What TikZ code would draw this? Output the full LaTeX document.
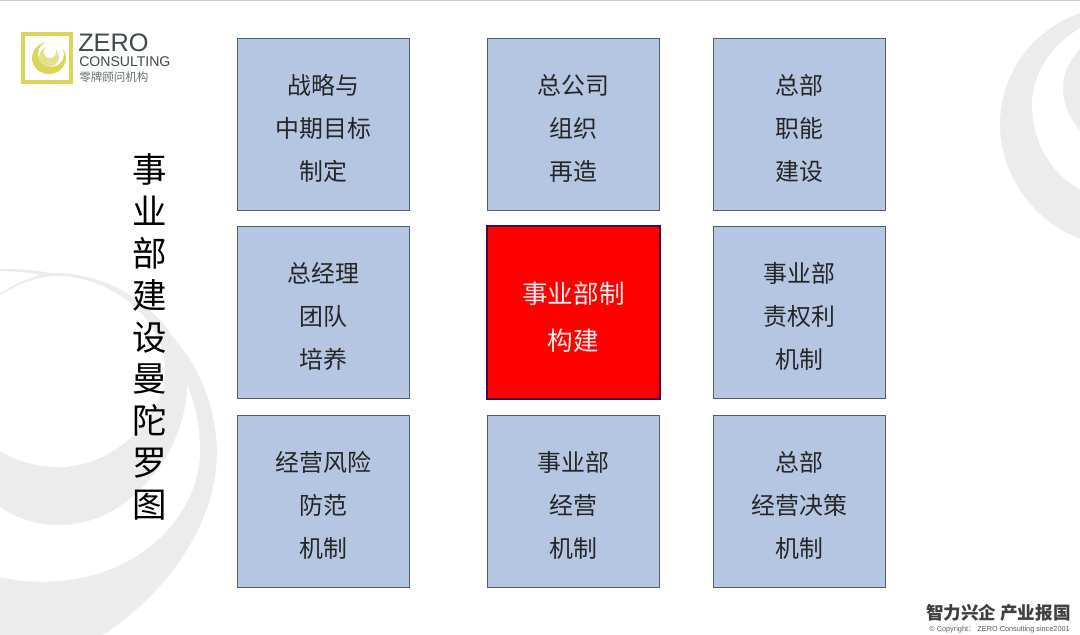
\documentclass[tikz,border=0pt]{standalone}
\usepackage{fontspec}
\setmainfont{Liberation Sans}
\newfontfamily\cjk{Noto Sans CJK SC}
\definecolor{swirl}{HTML}{ECECEC}
\definecolor{boxblue}{HTML}{B4C6E2}
\definecolor{boxline}{HTML}{4F5E72}
\definecolor{logoyellow}{HTML}{DDD45A}
\definecolor{logotext}{HTML}{3F4A4C}
\tikzset{
  cell/.style={draw=boxline, fill=boxblue, line width=1pt, minimum width=173*0.7087pt, minimum height=173*0.7087pt, inner sep=0pt},
  core/.style={cell, draw=black!60!blue!70!red, fill=red, line width=1.6pt},
  celltext/.style={align=center, inner sep=0pt, yshift=-2.8pt, text=black!85, font=\fontsize{17}{30.5}\selectfont\cjk},
  coretext/.style={align=center, inner sep=0pt, yshift=-3.4pt, text=white!92!red, font=\fontsize{18.2}{33.5}\selectfont\cjk},
}
\begin{document}
\begin{tikzpicture}[x=0.025cm, y=-0.025cm]
	\useasboundingbox (0,0) rectangle (1080,635);
	\fill[white] (0,0) rectangle (1080,635);
	\fill[black!20] (0,0) rectangle (1080,1.5);

	\begin{scope}
	\clip (0,0) rectangle (1080,635);
	% left swirl
	\fill[swirl] (-10,270) .. controls (60,262) and (210,300) .. (217,450) .. controls (217,530) and (160,600) .. (95,640) -- (-10,640) -- cycle;
	\fill[white] (-10,272) .. controls (60,264) and (200,318) .. (200,450) .. controls (200,530) and (110,605) .. (-10,575) -- cycle;
	\fill[swirl] (-10,300) .. controls (20,280) and (40,272) .. (60,273) .. controls (130,277) and (187,330) .. (187,385) .. controls (187,450) and (130,525) .. (60,525) .. controls (30,525) and (10,515) .. (-10,500) -- cycle;
	\fill[white] (-10,302) .. controls (15,285) and (35,276) .. (60,276) .. controls (120,279) and (165,325) .. (165,370) .. controls (165,420) and (110,467) .. (60,467) .. controls (30,467) and (10,458) .. (-10,445) -- cycle;
	% right swirl
	\fill[swirl] (1085,11) .. controls (1030,30) and (1000,75) .. (1000,125) .. controls (1000,175) and (1035,225) .. (1085,240) -- cycle;
	\fill[white] (1085,25) .. controls (1050,45) and (1032,75) .. (1032,105) .. controls (1032,140) and (1050,175) .. (1085,192) -- cycle;
	\fill[swirl] (1085,43) .. controls (1070,60) and (1063,72) .. (1063,88) .. controls (1063,105) and (1070,120) .. (1085,137) -- cycle;
	\end{scope}

	% logo
	\draw[logoyellow, line width=3pt] (23,34) rectangle (71,82);
	\fill[logoyellow] (49,58) ellipse (17 and 16);
	\fill[white] (51,54) ellipse (13 and 13);
	\fill[logoyellow!70] (49,57) circle (10);
	\fill[white] (50,52) circle (6);
	\node[anchor=west, inner sep=0pt, text=logotext, font=\fontsize{18}{18}\selectfont] (zero) at (78,43) {ZERO};
	\node[anchor=west, inner sep=0pt, text=logotext, font=\fontsize{10}{10}\selectfont] (consulting) at (79,62) {CONSULTING};
	\node[anchor=west, inner sep=0pt, text=logotext!80, font=\fontsize{8.2}{9}\selectfont\cjk] (brand) at (79,77) {零牌顾问机构};

	% title
	\node[align=center, inner sep=0pt, font=\fontsize{24.5}{29.8}\selectfont\cjk] (title) at (150,337)
		{事\\业\\部\\建\\设\\曼\\陀\\罗\\图};

	% grid
	\node[cell] (strategy) at (323.5,124.5) {};
	\node[cell] (company) at (573.5,124.5) {};
	\node[cell] (function) at (799.5,124.5) {};
	\node[cell] (manager) at (323.5,312.5) {};
	\node[core] (division) at (573.5,312.5) {};
	\node[cell] (rights) at (799.5,312.5) {};
	\node[cell] (risk) at (323.5,501.5) {};
	\node[cell] (operation) at (573.5,501.5) {};
	\node[cell] (decision) at (799.5,501.5) {};

	\node[celltext] (strategytext) at (strategy) {战略与\\中期目标\\制定};
	\node[celltext] (companytext) at (company) {总公司\\组织\\再造};
	\node[celltext] (functiontext) at (function) {总部\\职能\\建设};
	\node[celltext] (managertext) at (manager) {总经理\\团队\\培养};
	\node[coretext] (divisiontext) at (division) {事业部制\\构建};
	\node[celltext] (rightstext) at (rights) {事业部\\责权利\\机制};
	\node[celltext] (risktext) at (risk) {经营风险\\防范\\机制};
	\node[celltext] (operationtext) at (operation) {事业部\\经营\\机制};
	\node[celltext] (decisiontext) at (decision) {总部\\经营决策\\机制};

	% footer
	\node[anchor=east, inner sep=0pt, text=black!75, font=\fontsize{12.5}{13}\selectfont\cjk\bfseries] (motto) at (1071,613) {智力兴企 产业报国};
	\node[anchor=east, inner sep=0pt, text=black!65, font=\fontsize{5.2}{6}\selectfont] (copyright) at (1070,630) {© Copyright{\cjk ：} ZERO Consulting since2001};
\end{tikzpicture}
\end{document}
